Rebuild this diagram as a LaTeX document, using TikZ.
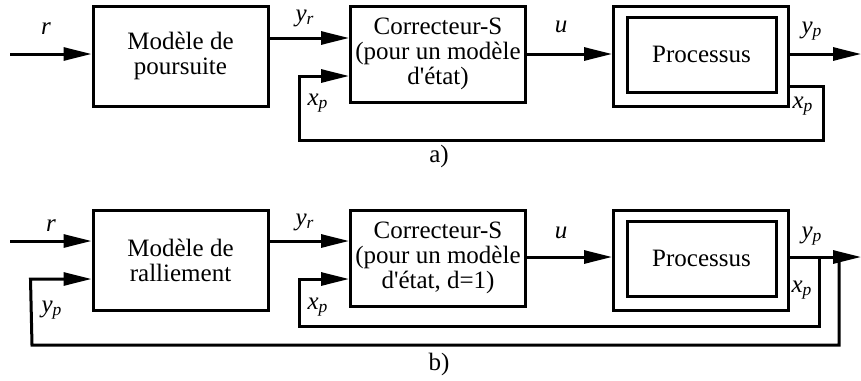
\documentclass[tikz,border=0pt]{standalone}
\usepackage{fontspec}
\setmainfont{Liberation Serif}[Ligatures=TeXOff]
\usetikzlibrary{arrows.meta, positioning}
\tikzset{
  bloc/.style={draw, line width=1.5pt, minimum width=87.5pt, minimum height=50pt,
    inner sep=0pt, align=center, font=\fontsize{12.5}{12.5}\selectfont},
  interne/.style={bloc, minimum width=74.5pt, minimum height=37.5pt},
  fleche/.style={-{Triangle[length=14pt, width=6.5pt]}, line width=1.5pt},
  etiq/.style={inner sep=0pt, font=\fontsize{12.5}{12.5}\selectfont\itshape},
  legende/.style={inner sep=0pt, font=\fontsize{12.5}{12.5}\selectfont}
}
\newcommand{\sig}[2]{#1\textsubscript{#2}}

\begin{document}
\begin{tikzpicture}[x=0.5pt, y=-0.5pt]
\useasboundingbox (0,0) rectangle (861,380);
% a) modele de poursuite
\coordinate (rA) at (10,54);
\node[bloc] (modA) at (180.5,56) {Modèle de\\poursuite};
\node[bloc, minimum height=48pt] (corA) at (438,54) {Correcteur-S\\(pour un modèle\\d'état)};
\node[bloc] (proA) at (701,56) {};
\node[interne] (proAi) at (701.5,54.5) {Processus};
\coordinate (sortA) at (861,54);
\coordinate (retA) at (823,140);
\draw[fleche] (rA) -- (rA -| modA.west);
\draw[fleche] ([yshift=9pt]modA.east) -- ([yshift=8pt]corA.west);
\draw[fleche] (corA.east) -- (corA.east -| proA.west);
\draw[fleche] (corA.east -| proA.east) -- (sortA);
\draw[fleche] ([yshift=-15pt]proA.east) -| (retA) -| ([xshift=-25pt, yshift=-11pt]corA.west) -- ([yshift=-11pt]corA.west);
\node[etiq] (lrA) at (46,29) {r};
\node[etiq] (lyrA) at (305,18) {\sig{y}{r}};
\node[etiq] (luA) at (561,27) {u};
\node[etiq] (lypA) at (812,31) {\sig{y}{p}};
\node[etiq] (lxpA) at (318,103) {\sig{x}{p}};
\node[etiq] (lxpA2) at (803,106) {\sig{x}{p}};
\node[legende] (capA) at (439,156) {a)};
% b) modele de ralliement
\coordinate (rB) at (10,241);
\node[bloc] (modB) at (180.5,260) {Modèle de\\ralliement};
\node[bloc, minimum height=48pt] (corB) at (438,258) {Correcteur-S\\(pour un modèle\\d'état, d=1)};
\node[bloc] (proB) at (701,260) {};
\node[interne] (proBi) at (701.5,258.5) {Processus};
\coordinate (sortB) at (861,257);
\coordinate (xpB) at (819,257);
\coordinate (ypB) at (839,257);
\coordinate (retXB) at (299,326);
\coordinate (retYB) at (32,345);
\draw[fleche] (rB) -- (rB -| modB.west);
\draw[fleche] ([yshift=9.5pt]modB.east) -- ([yshift=8.5pt]corB.west);
\draw[fleche] ([yshift=0.5pt]corB.east) -- ([yshift=0.5pt]corB.east -| proB.west);
\draw[fleche] (sortB -| proB.east) -- (sortB);
\draw[fleche] (xpB) |- (retXB) -- ([xshift=-25pt, yshift=-10.5pt]corB.west) -- ([yshift=-10.5pt]corB.west);
\draw[fleche] (ypB) |- (retYB) -- ([xshift=-30.5pt, yshift=-9.5pt]modB.west) -- ([yshift=-9.5pt]modB.west);
\node[etiq] (lrB) at (51,226) {r};
\node[etiq] (lyrB) at (305,222) {\sig{y}{r}};
\node[etiq] (luB) at (561,233) {u};
\node[etiq] (lypB) at (812,236) {\sig{y}{p}};
\node[etiq] (lxpB) at (318,307) {\sig{x}{p}};
\node[etiq] (lxpB2) at (802,290) {\sig{x}{p}};
\node[etiq] (lypB2) at (52,310) {\sig{y}{p}};
\node[legende] (capB) at (439,364) {b)};
\end{tikzpicture}
\end{document}
